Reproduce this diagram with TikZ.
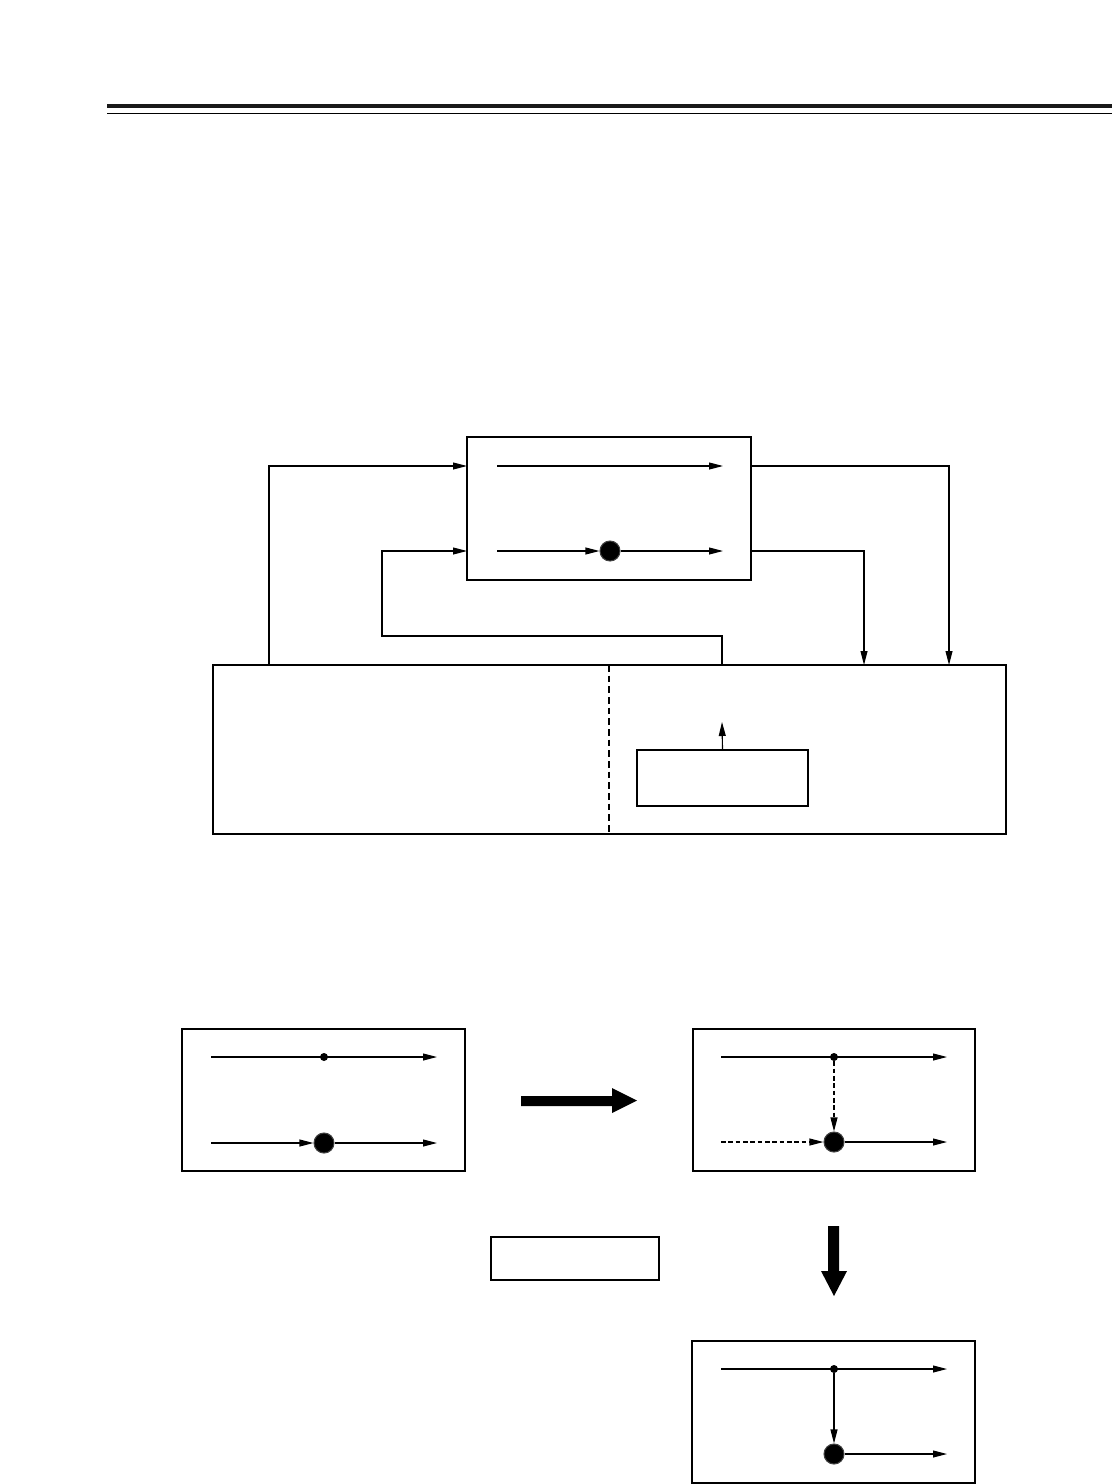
\documentclass[tikz,border=0pt]{standalone}
\usetikzlibrary{arrows.meta,fit}
\begin{document}
\begin{tikzpicture}[x=0.75pt,y=-0.75pt,
  box/.style={draw=black,line width=1.7pt,inner sep=0pt},
  thinbox/.style={draw=black,line width=0.9pt,inner sep=0pt},
  wire/.style={line width=0.85pt},
  arr/.style={wire,-{Triangle[length=10.5pt,width=5.2pt]}},
  dashwire/.style={wire,dash pattern=on 3.5pt off 2pt},
  bigdot/.style={circle,fill=black,draw=black!75,line width=0.8pt,minimum size=15pt,inner sep=0pt},
  smalldot/.style={circle,fill=black,minimum size=6pt,inner sep=0pt}]
\useasboundingbox (0,0) rectangle (1112,1484);
% header rules
\fill[black!90] (107,104) rectangle (1112,108);
\draw[line width=1.1pt] (107,113.5) -- (1112,113.5);

% ===== upper diagram =====
\node (top) [box, fit={(467,437) (751,580)}] {};
\node (low) [box, fit={(213,665) (1006,834)}] {};
\node (inner) [thinbox, fit={(637,750) (808,806)}] {};
\coordinate (dvt) at (609,665); \coordinate (dvb) at (609,834);
\draw[wire,dash pattern=on 5pt off 3pt] (dvt) -- (dvb);

\coordinate (a1s) at (497,466); \coordinate (a1e) at (723,466);
\draw[arr] (a1s) -- (a1e);
\coordinate (a2s) at (497,551); \coordinate (a2e) at (723,551);
\node (c1) [bigdot] at (610,551) {};
\draw[arr] (a2s) -- (c1);
\draw[arr] (c1) -- (a2e);

% feedback from lower box to top box
\coordinate (f1) at (269,665); \coordinate (f1t) at (467,466);
\draw[arr] (f1) |- (f1t);
\coordinate (f2) at (722,665); \coordinate (f2t) at (467,551);
\draw[arr] (f2) -- (722,636) -- (382,636) |- (f2t);
% outputs to lower box
\coordinate (o1) at (751,466); \coordinate (o1t) at (949,665);
\draw[arr] (o1) -| (o1t);
\coordinate (o2) at (751,551); \coordinate (o2t) at (864,665);
\draw[arr] (o2) -| (o2t);
% inner small arrow
\coordinate (upt) at (722,722);
\draw[arr] (inner.north) -- (upt);

% ===== lower diagrams =====
\node (b1) [box, fit={(182,1029) (465,1171)}] {};
\node (b2) [box, fit={(693,1029) (975,1171)}] {};
\node (b3) [box, fit={(692,1341) (975,1483)}] {};
\node (mid) [box, fit={(491,1237) (659,1280)}] {};

% box 1
\node (d1) [smalldot] at (324,1057) {};
\coordinate (b1us) at (211,1057); \coordinate (b1ue) at (437,1057);
\draw[arr] (b1us) -- (b1ue);
\node (e1) [bigdot] at (324,1143) {};
\coordinate (b1ls) at (211,1143); \coordinate (b1le) at (437,1143);
\draw[arr] (b1ls) -- (e1);
\draw[arr] (e1) -- (b1le);

% box 2
\node (d2) [smalldot] at (834,1057) {};
\coordinate (b2us) at (721,1057); \coordinate (b2ue) at (947,1057);
\draw[arr] (b2us) -- (b2ue);
\node (e2) [bigdot] at (834,1142) {};
\coordinate (b2ls) at (721,1142); \coordinate (b2le) at (947,1142);
\draw[dashwire,-{Triangle[length=10.5pt,width=5.2pt]}] (b2ls) -- (e2);
\draw[dashwire,-{Triangle[length=10.5pt,width=5.2pt]}] (d2) -- (e2);
\draw[arr] (e2) -- (b2le);

% box 3
\node (d3) [smalldot] at (834,1369) {};
\coordinate (b3us) at (721,1369); \coordinate (b3ue) at (947,1369);
\draw[arr] (b3us) -- (b3ue);
\node (e3) [bigdot] at (834,1454) {};
\coordinate (b3le) at (947,1454);
\draw[arr] (d3) -- (e3);
\draw[arr] (e3) -- (b3le);

% thick arrows
\fill (521,1096) -- (612,1096) -- (612,1088) -- (637,1100.5) -- (612,1113) -- (612,1106) -- (521,1106) -- cycle;
\fill (828,1226) -- (839,1226) -- (839,1271) -- (847,1271) -- (834,1296) -- (821,1271) -- (828,1271) -- cycle;
\end{tikzpicture}
\end{document}
